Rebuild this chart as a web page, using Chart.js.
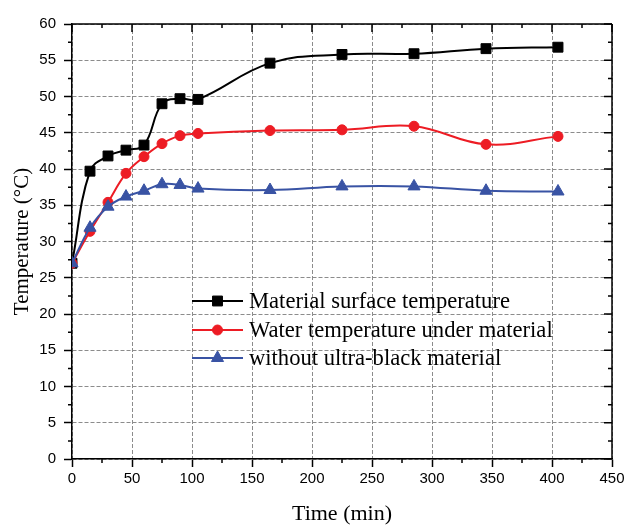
<!DOCTYPE html>
<html><head><meta charset="utf-8">
<script src="https://cdn.jsdelivr.net/npm/chart.js@4/dist/chart.umd.min.js"></script>
<style>html,body{margin:0;padding:0;background:#fff}#wrap{width:630px;height:525px}</style>
</head><body><div id="wrap"><canvas id="c" width="630" height="525"></canvas></div>
<script>
const timeMin = [0, 15, 30, 45, 60, 75, 90, 105, 165, 225, 285, 345, 405];
const surfaceTemp = [27, 39.7, 41.8, 42.6, 43.3, 49.0, 49.7, 49.6, 54.6, 55.8, 55.9, 56.6, 56.8];
const waterTemp = [27, 31.4, 35.4, 39.4, 41.7, 43.5, 44.6, 44.9, 45.3, 45.4, 45.9, 43.4, 44.5];
const noMaterialTemp = [27, 31.9, 34.8, 36.2, 37.0, 37.9, 37.8, 37.3, 37.1, 37.6, 37.6, 37.0, 36.9];
const seriesNames = ['Material surface temperature', 'Water temperature under material', 'without ultra-black material'];
const xTitle = 'Time (min)';
const yTitle = 'Temperature (°C)';

const BLACK = '#000000', RED = '#ED1C24', BLUE = '#3953A4';
const styles = [
  {color: BLACK, pointStyle: 'rect', radius: 7},
  {color: RED, pointStyle: 'circle', radius: 5},
  {color: BLUE, pointStyle: 'triangle', radius: 7}
];
const seriesValues = [surfaceTemp, waterTemp, noMaterialTemp];

const datasets = seriesValues.map((vals, i) => ({
  label: seriesNames[i],
  data: timeMin.map((t, j) => ({x: t, y: vals[j]})),
  borderColor: styles[i].color,
  backgroundColor: styles[i].color,
  pointBackgroundColor: styles[i].color,
  pointBorderColor: styles[i].color,
  pointStyle: styles[i].pointStyle,
  pointRadius: styles[i].radius,
  pointHoverRadius: styles[i].radius,
  pointBorderWidth: 1,
  borderWidth: 2,
  tension: 0.4,
  fill: false,
  order: 3 - i
}));

const framePlugin = {
  id: 'frame',
  afterDraw(chart) {
    const ctx = chart.ctx;
    const a = chart.chartArea;
    const xs = chart.scales.x, ys = chart.scales.y;
    ctx.save();
    ctx.strokeStyle = '#000';
    ctx.lineWidth = 1.5;
    ctx.beginPath();
    ctx.moveTo(a.left, a.top); ctx.lineTo(a.right, a.top);
    ctx.moveTo(a.right, a.top); ctx.lineTo(a.right, a.bottom);
    ctx.stroke();
    ctx.beginPath();
    for (let v = 0; v <= 450; v += 25) {
      const px = xs.getPixelForValue(v);
      const major = v % 50 === 0;
      const L = major ? 8 : 4;
      ctx.moveTo(px, a.top); ctx.lineTo(px, a.top + L);
      if (!major) { ctx.moveTo(px, a.bottom); ctx.lineTo(px, a.bottom + 4); }
    }
    for (let v = 0; v <= 60; v += 2.5) {
      const py = ys.getPixelForValue(v);
      const major = v % 5 === 0;
      const L = major ? 8 : 4;
      ctx.moveTo(a.right, py); ctx.lineTo(a.right - L, py);
      if (!major) { ctx.moveTo(a.left, py); ctx.lineTo(a.left - 4, py); }
    }
    ctx.stroke();
    // legend
    const rows = [301, 330, 358];
    ctx.font = '22.6px "Liberation Serif", "Times New Roman", serif';
    ctx.textBaseline = 'middle';
    ctx.textAlign = 'left';
    seriesNames.forEach((name, i) => {
      const y = rows[i];
      ctx.strokeStyle = styles[i].color;
      ctx.fillStyle = styles[i].color;
      ctx.lineWidth = 2;
      ctx.beginPath(); ctx.moveTo(192, y); ctx.lineTo(243, y); ctx.stroke();
      ctx.lineWidth = 1;
      Chart.helpers.drawPoint(ctx, {pointStyle: styles[i].pointStyle, radius: styles[i].radius, rotation: 0, borderWidth: 1}, 217.5, y);
      ctx.fillStyle = '#000';
      ctx.fillText(name, 249, y + 1);
    });
    ctx.restore();
  }
};

const tickFont = {family: '"Liberation Sans", Arial, sans-serif', size: 15};
const titleFont = {family: '"Liberation Serif", "Times New Roman", serif', size: 22};

new Chart(document.getElementById('c'), {
  type: 'line',
  data: {datasets},
  options: {
    responsive: false,
    animation: false,
    devicePixelRatio: 1,
    layout: {padding: {top: 24, right: 18, left: 0, bottom: 0}},
    plugins: {legend: {display: false}, tooltip: {enabled: false}},
    scales: {
      x: {
        type: 'linear', min: 0, max: 450,
        ticks: {stepSize: 50, color: '#000', font: tickFont, padding: 3, maxRotation: 0, autoSkip: false},
        grid: {color: '#8c8c8c', lineWidth: 1, tickColor: '#000', tickWidth: 1.5, tickLength: 8},
        border: {color: '#000', width: 1.5, dash: [4, 2]},
        title: {display: true, text: xTitle, color: '#000', font: titleFont, padding: {top: 0, bottom: -2}},
        afterFit(s) { s.height = 66; }
      },
      y: {
        type: 'linear', min: 0, max: 60,
        ticks: {stepSize: 5, color: '#000', font: tickFont, padding: 8, autoSkip: false},
        grid: {color: '#8c8c8c', lineWidth: 1, tickColor: '#000', tickWidth: 1.5, tickLength: 8},
        border: {color: '#000', width: 1.5, dash: [4, 2]},
        title: {display: true, text: yTitle, color: '#000', font: {family: titleFont.family, size: 21}, padding: {top: 10, bottom: 0}},
        afterFit(s) { s.width = 72; }
      }
    }
  },
  plugins: [framePlugin]
});
</script>
</body></html>
